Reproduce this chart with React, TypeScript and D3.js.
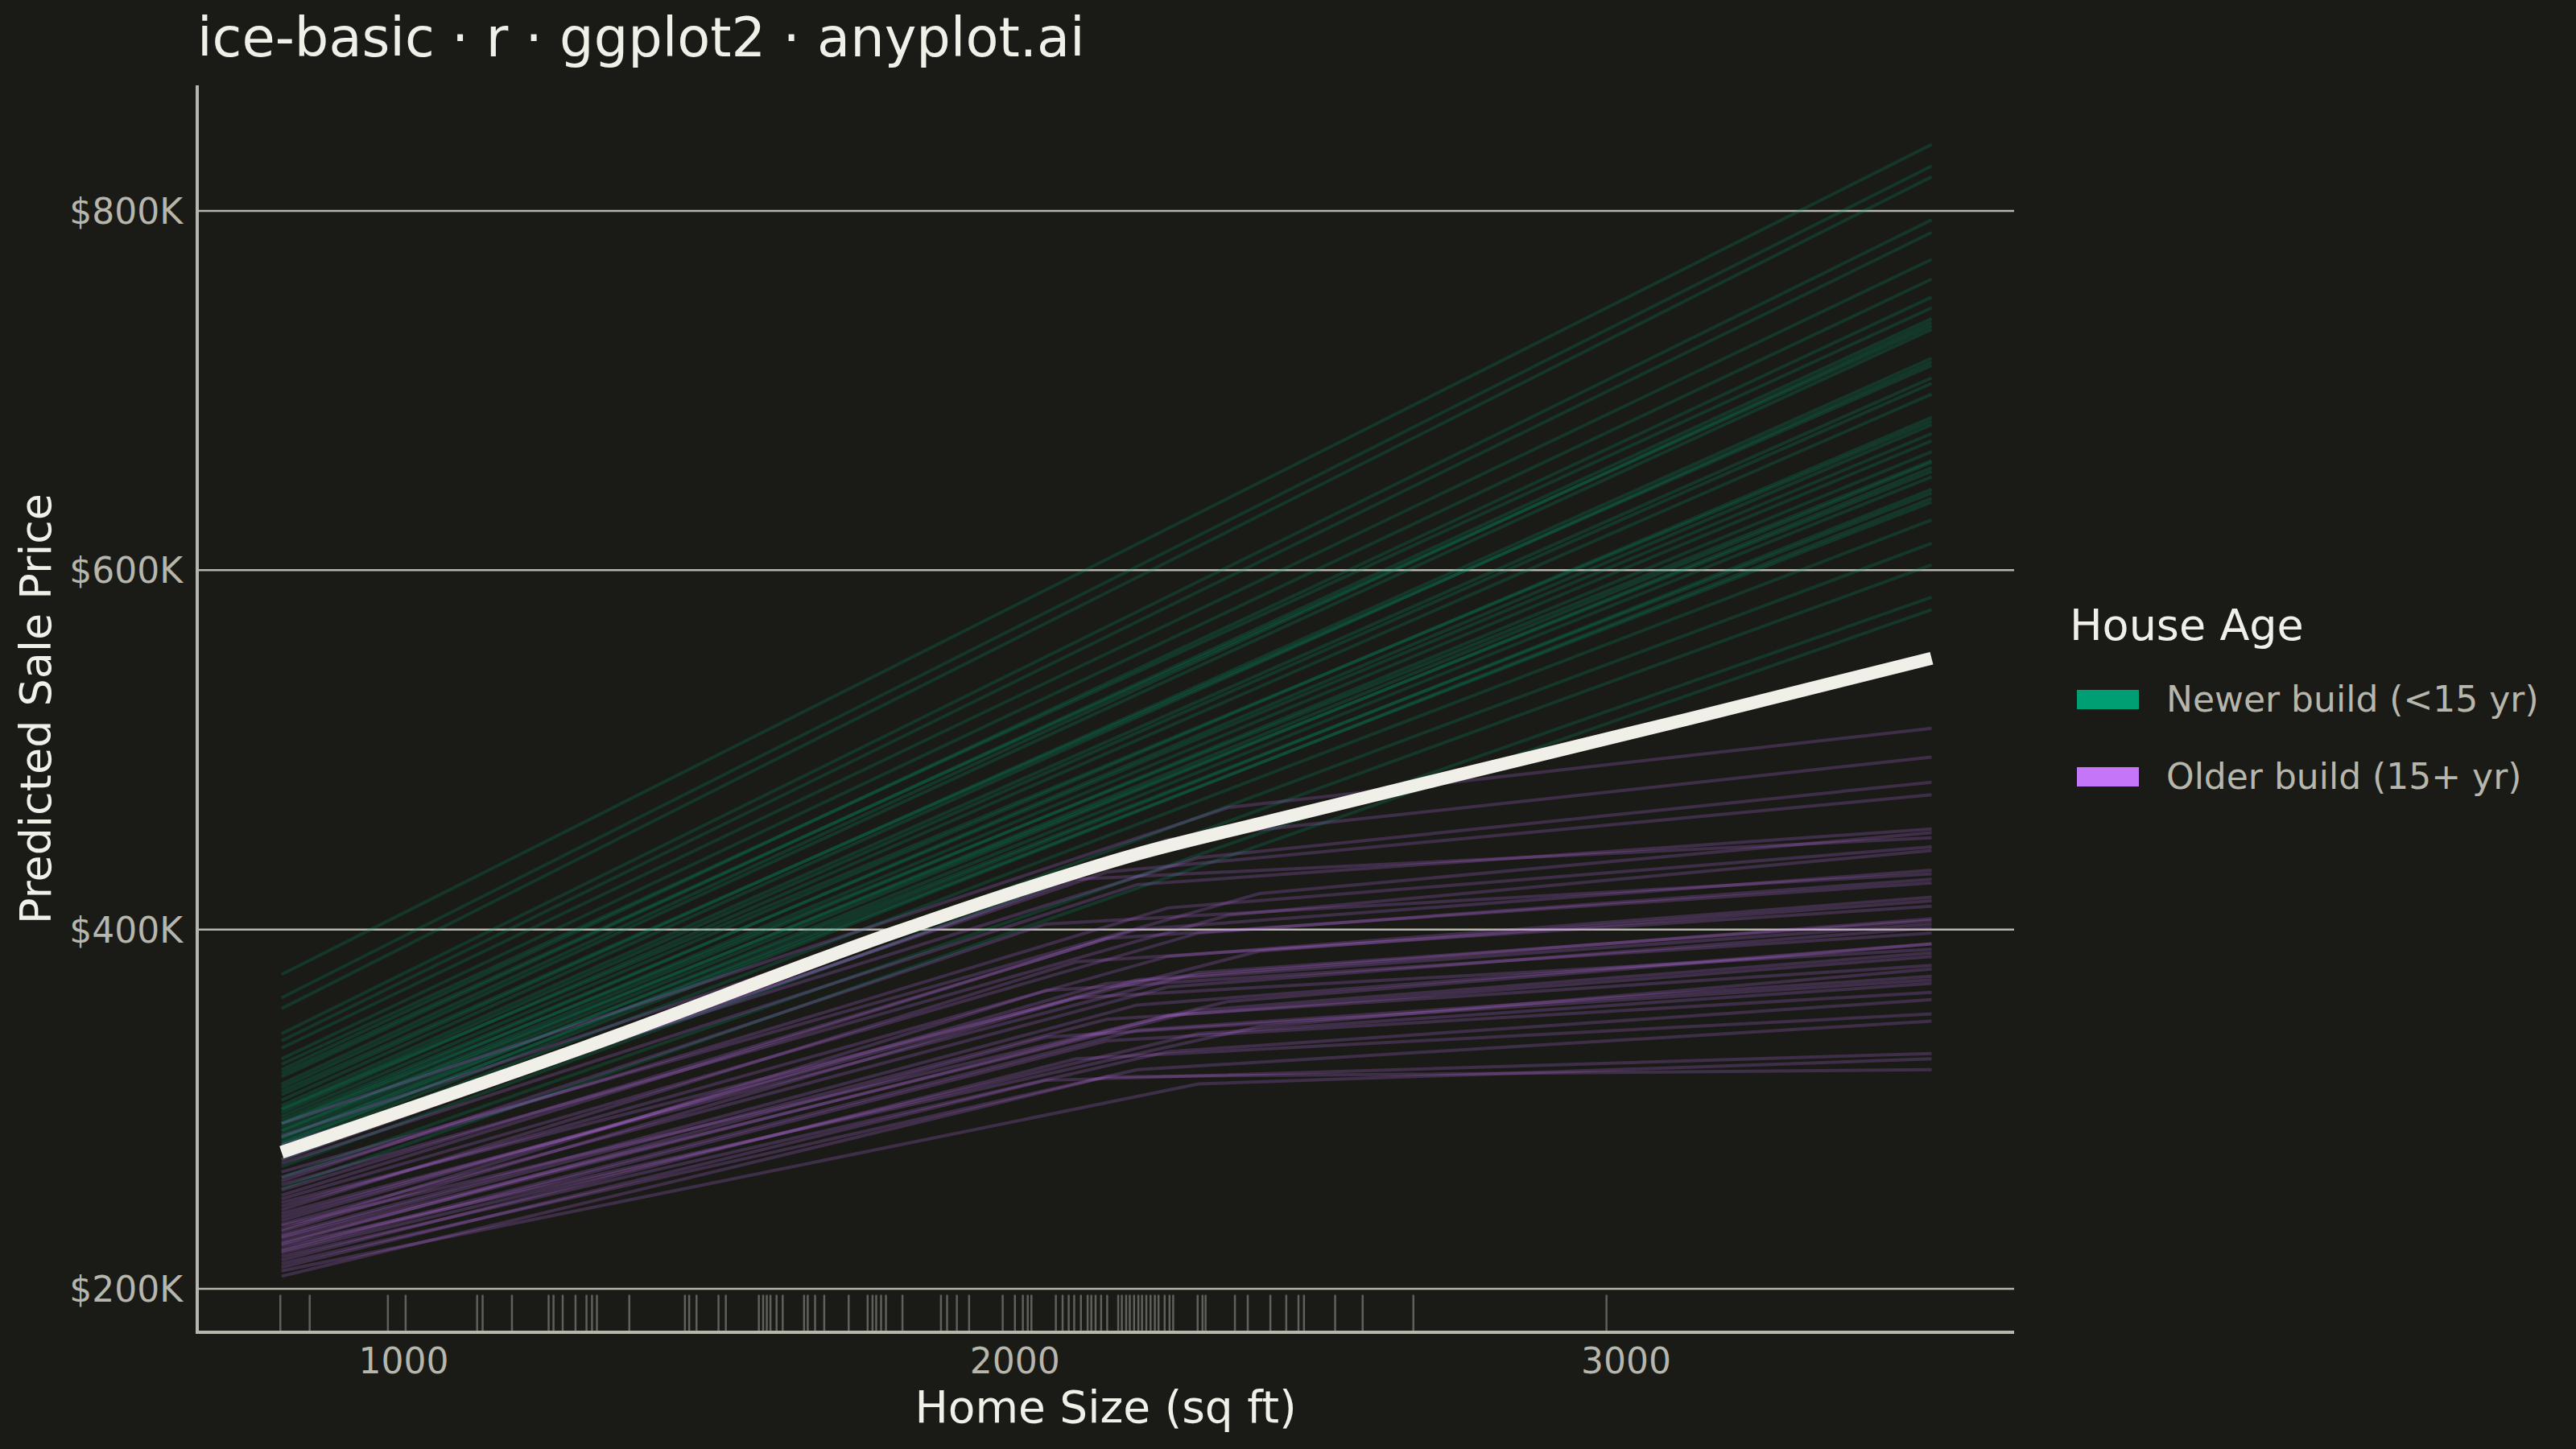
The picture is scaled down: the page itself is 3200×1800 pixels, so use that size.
import { useEffect } from 'react'
import * as d3 from 'd3'

const W = 3200
const H = 1800

// sq ft range evaluated for every ICE curve
const SQFT_MIN = 800
const SQFT_MAX = 3500

// Newer builds: straight ICE lines, predicted price ($K) at 800 and 3500 sq ft
const newerStartK = [375, 362, 356, 342, 338, 334, 328, 322, 325, 318, 314, 320, 312, 308, 305, 310, 302, 300, 298, 296,
  300, 292, 294, 290, 288, 292, 286, 284, 288, 282, 280, 284, 278, 281, 276, 272, 268, 262, 256]
const newerEndK = [837, 825, 819, 795, 788, 773, 762, 752, 746, 740, 738, 736, 734, 718, 716, 714, 707, 704, 698, 685,
  683, 681, 676, 672, 666, 661, 660, 657, 655, 652, 645, 643, 640, 638, 628, 615, 603, 585, 578]

// Older builds: price at 800 sq ft, at the bend, and at 3500 sq ft ($K)
const olderStartK = [292, 285, 280, 276, 270, 265, 272, 262, 258, 255, 260, 250, 252, 246, 248, 244, 240, 242, 238, 236,
  233, 235, 230, 232, 228, 226, 229, 224, 222, 225, 220, 221, 218, 216, 214, 212, 210, 207]
const olderKneeSqft = [2350, 2250, 2300, 2150, 2200, 2400, 2100, 2250, 2350, 2200, 2050, 2300, 2150, 2250, 2400, 2100, 2200, 2300, 2150, 2250,
  2050, 2350, 2200, 2100, 2300, 2250, 2150, 2400, 2200, 2050, 2300, 2150, 2250, 2100, 2200, 2050, 2300, 2150]
const olderKneeK = [468, 450, 440, 432, 425, 420, 428, 412, 408, 400, 403, 398, 395, 385, 388, 382, 372, 376, 370, 368,
  366, 360, 358, 362, 355, 352, 350, 346, 344, 340, 342, 338, 332, 328, 322, 316, 314, 318]
const olderEndK = [512, 496, 482, 475, 456, 454, 451, 446, 444, 433, 431, 428, 426, 418, 416, 413, 406, 405, 403, 401,
  398, 392, 392, 389, 387, 385, 380, 378, 374, 372, 370, 365, 361, 353, 349, 331, 328, 322]

// Partial dependence (average) curve
const pdpSqft = [800, 1300, 1800, 2000, 2200, 2400, 2700, 3100, 3500]
const pdpK = [276, 335, 398, 421, 442, 459, 484, 517, 551]

// Observed home sizes (rug)
const rugSqft = [798, 846, 974, 1003, 1120, 1129, 1177, 1237, 1245, 1260, 1281, 1299, 1308, 1316, 1369, 1460, 1467, 1479,
  1515, 1527, 1581, 1588, 1594, 1600, 1610, 1620, 1655, 1661, 1673, 1688, 1728, 1759, 1767, 1773, 1781, 1789, 1816,
  1879, 1889, 1905, 1925, 1980, 2000, 2013, 2021, 2027, 2067, 2078, 2088, 2097, 2108, 2119, 2125, 2132, 2141, 2151,
  2169, 2175, 2182, 2188, 2195, 2202, 2208, 2215, 2222, 2229, 2235, 2245, 2253, 2259, 2299, 2307, 2312, 2360, 2381,
  2418, 2444, 2464, 2473, 2524, 2569, 2652, 2968]

const xTicks = [1000, 2000, 3000]
const yTicks = [200000, 400000, 600000, 800000]

const legendLabels = ['Newer build (<15 yr)', 'Older build (15+ yr)']

const BG = '#1A1A17'
const INK = '#F0EFE8'
const SOFT = '#B6B6AC'
const GREEN = '#009E73'
const PURPLE = '#C475F8'
const FONT = '"DejaVu Sans", sans-serif'

export default function App() {
  useEffect(() => {
    document.body.style.margin = '0'
    document.body.style.background = BG
  }, [])

  const left = 245
  const right = 2502
  const top = 106
  const bottom = 1655

  const x = d3.scaleLinear().domain([662, 3635]).range([left, right])
  const y = d3.scaleLinear().domain([175800, 869900]).range([bottom, top])

  const line = d3.line<[number, number]>()
    .x(d => x(d[0]))
    .y(d => y(d[1] * 1000))

  const pdpLine = d3.line<[number, number]>()
    .x(d => x(d[0]))
    .y(d => y(d[1] * 1000))
    .curve(d3.curveMonotoneX)

  const newerPaths = newerStartK.map((s, i) =>
    line([[SQFT_MIN, s], [SQFT_MAX, newerEndK[i]]]) as string)
  const olderPaths = olderStartK.map((s, i) =>
    line([[SQFT_MIN, s], [olderKneeSqft[i], olderKneeK[i]], [SQFT_MAX, olderEndK[i]]]) as string)
  const pdpPath = pdpLine(pdpSqft.map((s, i) => [s, pdpK[i]] as [number, number])) as string

  const rugLen = 0.03 * (bottom - top)

  return (
    <svg width={W} height={H} style={{ display: 'block', background: BG }} fontFamily={FONT}>
      <rect width={W} height={H} fill={BG} />

      {/* title */}
      <text x={left} y={70} fill={INK} fontSize={67}>ice-basic · r · ggplot2 · anyplot.ai</text>

      {/* horizontal grid */}
      {yTicks.map(t => (
        <line key={t} x1={left} x2={right} y1={y(t)} y2={y(t)} stroke={SOFT} strokeWidth={2.5} />
      ))}

      {/* ICE curves */}
      <g fill="none" strokeWidth={4} strokeOpacity={0.22}>
        {newerPaths.map((d, i) => <path key={'n' + i} d={d} stroke={GREEN} />)}
        {olderPaths.map((d, i) => <path key={'o' + i} d={d} stroke={PURPLE} />)}
      </g>

      {/* PDP */}
      <path d={pdpPath} fill="none" stroke={INK} strokeWidth={16} />

      {/* rug */}
      <g stroke={SOFT} strokeOpacity={0.45} strokeWidth={2.5}>
        {rugSqft.map((s, i) => (
          <line key={i} x1={x(s)} x2={x(s)} y1={bottom} y2={bottom - rugLen} />
        ))}
      </g>

      {/* axes */}
      <line x1={left} x2={left} y1={top} y2={bottom + 2} stroke={SOFT} strokeWidth={4} />
      <line x1={left - 2} x2={right} y1={bottom} y2={bottom} stroke={SOFT} strokeWidth={4} />

      {yTicks.map(t => (
        <text key={t} x={227} y={y(t)} dy="0.36em" textAnchor="end" fill={SOFT} fontSize={44}>
          {`$${t / 1000}K`}
        </text>
      ))}
      {xTicks.map(t => (
        <text key={t} x={x(t)} y={1706} textAnchor="middle" fill={SOFT} fontSize={44}>{t}</text>
      ))}

      <text x={(left + right) / 2} y={1767} textAnchor="middle" fill={INK} fontSize={55}>Home Size (sq ft)</text>
      <text transform={`translate(63,${(top + bottom) / 2}) rotate(-90)`} textAnchor="middle" fill={INK} fontSize={54}>
        Predicted Sale Price
      </text>

      {/* legend */}
      <text x={2571} y={795} fill={INK} fontSize={54}>House Age</text>
      {legendLabels.map((lab, i) => (
        <g key={lab} transform={`translate(0,${i * 96})`}>
          <rect x={2580} y={857} width={77} height={24} fill={i === 0 ? GREEN : PURPLE} />
          <text x={2691} y={884} fill={SOFT} fontSize={44}>{lab}</text>
        </g>
      ))}
    </svg>
  )
}
